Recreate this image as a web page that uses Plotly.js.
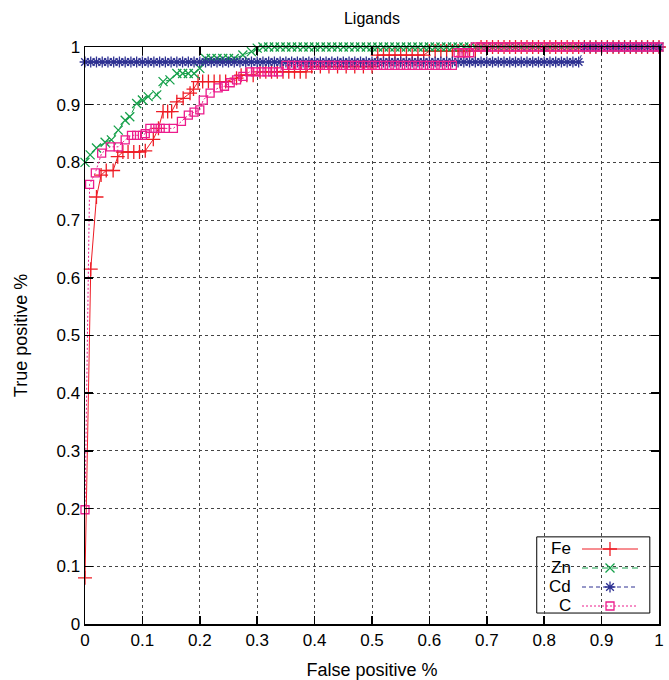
<!DOCTYPE html>
<html>
<head>
<meta charset="utf-8">
<script src="https://cdn.plot.ly/plotly-3.0.1.min.js"></script>
<style>html,body{margin:0;padding:0;background:#fff;}#chart{width:669px;height:680px;}</style>
</head>
<body>
<div id="chart"></div>
<script>
// ---- Data ----
const seriesNames = ["Fe", "Zn", "Cd", "C"];

const feX = [0,0.01,0.02,0.028,0.037,0.049,0.057,0.066,0.075,0.085,0.095,0.105,0.119,0.128,0.136,0.144,0.151,0.16,0.171,0.183,0.189,0.197,0.205,0.215,0.225,0.235,0.245,0.264,0.272,0.282,0.293,0.305,0.315,0.325,0.335,0.345,0.355,0.365,0.375,0.385,0.395,0.41,0.425,0.44,0.455,0.47,0.485,0.5,0.51,0.52,0.53,0.54,0.55,0.56,0.57,0.58,0.59,0.6,0.61,0.62,0.63,0.64,0.65,0.66,0.67,0.68,0.69,0.7,0.71,0.72,0.73,0.74,0.75,0.76,0.77,0.78,0.79,0.8,0.81,0.82,0.83,0.84,0.85,0.86,0.87,0.88,0.89,0.9,0.91,0.92,0.93,0.94,0.95,0.96,0.97,0.98,0.99,1.0];
const feY = [0.08,0.615,0.74,0.778,0.786,0.786,0.81,0.818,0.818,0.818,0.818,0.82,0.84,0.859,0.888,0.888,0.888,0.905,0.911,0.92,0.927,0.94,0.94,0.94,0.94,0.94,0.94,0.946,0.951,0.951,0.951,0.957,0.957,0.957,0.957,0.957,0.957,0.957,0.957,0.957,0.966,0.966,0.966,0.966,0.966,0.966,0.966,0.966,0.986,0.986,0.986,0.986,0.986,0.986,0.986,0.986,0.986,0.993,0.993,0.993,0.993,0.993,0.993,0.993,0.993,0.993,1,1,1,1,1,1,1,1,1,1,1,1,1,1,1,1,1,1,1,1,1,1,1,1,1,1,1,1,1,1,1,1];

const znX = [0,0.009,0.02,0.035,0.046,0.058,0.07,0.078,0.09,0.1,0.11,0.125,0.136,0.148,0.16,0.17,0.18,0.19,0.2,0.21,0.22,0.23,0.24,0.25,0.26,0.275,0.29,0.3,0.31,0.32,0.33,0.34,0.35,0.36,0.37,0.38,0.39,0.4,0.41,0.42,0.43,0.44,0.45,0.46,0.47,0.48,0.49,0.5,0.51,0.52,0.53,0.54,0.55,0.56,0.57,0.58,0.59,0.6,0.61,0.62,0.63,0.64,0.65,0.66,0.67,0.68,0.69,0.7,0.71,0.72,0.73,0.74,0.75,0.76,0.77,0.78,0.79,0.8,0.81,0.82,0.83,0.84,0.85,0.86,0.87,0.88,0.89,0.9,0.91,0.92,0.93,0.94,0.95,0.96,0.97,0.98,0.99,1.0];
const znY = [0.8,0.813,0.825,0.835,0.839,0.856,0.873,0.879,0.902,0.908,0.914,0.917,0.94,0.943,0.954,0.954,0.954,0.954,0.963,0.98,0.98,0.98,0.98,0.98,0.98,0.986,0.992,0.998,1,1,1,1,1,1,1,1,1,1,1,1,1,1,1,1,1,1,1,1,1,1,1,1,1,1,1,1,1,1,1,1,1,1,1,1,1,1,1,1,1,1,1,1,1,1,1,1,1,1,1,1,1,1,1,1,1,1,1,1,1,1,1,1,1,1,1,1,1,1];

const cdX = [0,0.01,0.02,0.03,0.04,0.05,0.06,0.07,0.08,0.09,0.1,0.11,0.12,0.13,0.14,0.15,0.16,0.17,0.18,0.19,0.2,0.21,0.22,0.23,0.24,0.25,0.26,0.27,0.28,0.29,0.3,0.31,0.32,0.33,0.34,0.35,0.36,0.37,0.38,0.39,0.4,0.41,0.42,0.43,0.44,0.45,0.46,0.47,0.48,0.49,0.5,0.51,0.52,0.53,0.54,0.55,0.56,0.57,0.58,0.59,0.6,0.61,0.62,0.63,0.64,0.65,0.66,0.67,0.68,0.69,0.7,0.71,0.72,0.73,0.74,0.75,0.76,0.77,0.78,0.79,0.8,0.81,0.82,0.83,0.84,0.85,0.86,0.87,0.88,0.89,0.9,0.91,0.92,0.93,0.94,0.95,0.96,0.97,0.98,0.99,1.0];
const cdY = [0.974,0.974,0.974,0.974,0.974,0.974,0.974,0.974,0.974,0.974,0.974,0.974,0.974,0.974,0.974,0.974,0.974,0.974,0.974,0.974,0.974,0.974,0.974,0.974,0.974,0.974,0.974,0.974,0.974,0.974,0.974,0.974,0.974,0.974,0.974,0.974,0.974,0.974,0.974,0.974,0.974,0.974,0.974,0.974,0.974,0.974,0.974,0.974,0.974,0.974,0.974,0.974,0.974,0.974,0.974,0.974,0.974,0.974,0.974,0.974,0.974,0.974,0.974,0.974,0.974,0.974,0.974,0.974,0.974,0.974,0.974,0.974,0.974,0.974,0.974,0.974,0.974,0.974,0.974,0.974,0.974,0.974,0.974,0.974,0.974,0.974,0.974,1,1,1,1,1,1,1,1,1,1,1,1,1,1];

const cX = [0,0.008,0.018,0.029,0.044,0.058,0.07,0.081,0.09,0.1,0.105,0.113,0.122,0.131,0.14,0.154,0.168,0.18,0.19,0.2,0.206,0.218,0.232,0.243,0.253,0.264,0.275,0.287,0.297,0.307,0.317,0.327,0.337,0.35,0.36,0.37,0.38,0.39,0.4,0.41,0.42,0.43,0.44,0.45,0.46,0.47,0.48,0.49,0.5,0.51,0.52,0.53,0.54,0.55,0.56,0.57,0.58,0.59,0.6,0.61,0.62,0.63,0.64,0.65,0.66,0.67,0.68,0.69,0.7,0.71,0.72,0.73,0.74,0.75,0.76,0.77,0.78,0.79,0.8,0.81,0.82,0.83,0.84,0.85,0.86,0.87,0.88,0.89,0.9,0.91,0.92,0.93,0.94,0.95,0.96,0.97,0.98,0.99,1.0];
const cY = [0.198,0.762,0.782,0.816,0.827,0.827,0.839,0.847,0.847,0.847,0.85,0.859,0.859,0.859,0.859,0.859,0.871,0.882,0.887,0.891,0.908,0.92,0.929,0.932,0.938,0.943,0.949,0.957,0.957,0.957,0.957,0.957,0.957,0.968,0.968,0.968,0.968,0.968,0.968,0.968,0.968,0.968,0.968,0.968,0.968,0.968,0.968,0.968,0.968,0.968,0.968,0.968,0.968,0.968,0.968,0.968,0.968,0.968,0.968,0.968,0.968,0.968,0.968,0.99,0.99,0.99,1,1,1,1,1,1,1,1,1,1,1,1,1,1,1,1,1,1,1,1,1,1,1,1,1,1,1,1,1,1,1,1,1];

const tickVals = [0,0.1,0.2,0.3,0.4,0.5,0.6,0.7,0.8,0.9,1];
const tickText = ["0","0.1","0.2","0.3","0.4","0.5","0.6","0.7","0.8","0.9","1"];

// ---- Styles ----
const FONT = "Liberation Sans, Arial, sans-serif";
const styles = [
  {color: "#ee1c25", dash: "solid", symbol: "cross-thin", size: 10},
  {color: "#15a04a", dash: "6px,4px", symbol: "x-thin", size: 9},
  {color: "#2e3192", dash: "4px,3px", symbol: "asterisk", size: 9},
  {color: "#ec1c8c", dash: "2px,2px", symbol: "square-open", size: 8}
];
const xs = [feX, znX, cdX, cX];
const ys = [feY, znY, cdY, cY];

const traces = seriesNames.map((n, i) => ({
  type: "scatter", mode: "lines+markers", name: " ",
  x: xs[i], y: ys[i], cliponaxis: false,
  line: {color: styles[i].color, width: 1, dash: styles[i].dash},
  marker: {symbol: styles[i].symbol, size: styles[i].size, color: styles[i].color,
           line: {color: styles[i].color, width: 1.3}}
}));

const axisBase = {
  range: [0, 1], tickvals: tickVals, ticktext: tickText,
  showgrid: true, gridcolor: "#444", griddash: "dot", gridwidth: 1,
  showline: true, linecolor: "#000", linewidth: 1.5, mirror: "ticks",
  ticks: "inside", ticklen: 8, tickcolor: "#000", tickwidth: 1.5,
  zeroline: false, tickfont: {family: FONT, size: 17, color: "#000"}
};

const legRowsY = [0.1308, 0.0979, 0.065, 0.0321];
const annotations = seriesNames.map((n, i) => ({
  xref: "paper", yref: "paper", x: 0.848, y: legRowsY[i], xanchor: "right", yanchor: "middle",
  text: n, showarrow: false, font: {family: FONT, size: 17, color: "#000"}, borderpad: 0
}));

const layout = {
  width: 669, height: 680,
  margin: {l: 85, r: 10, t: 47, b: 56},
  paper_bgcolor: "#fff", plot_bgcolor: "#fff",
  title: {text: "Ligands", x: 0.5, xref: "paper", y: 1 - 18/680, yref: "container",
          yanchor: "middle", font: {family: FONT, size: 16, color: "#000"}},
  xaxis: Object.assign({}, axisBase, {title: {text: "False positive %", font: {family: FONT, size: 18, color: "#000"}, standoff: 14}}),
  yaxis: Object.assign({}, axisBase, {title: {text: "True positive %", font: {family: FONT, size: 18, color: "#000"}, standoff: 24}}),
  showlegend: true,
  legend: {x: (577 - 85)/574, y: (624 - 534.5)/577, xanchor: "left", yanchor: "top",
           bgcolor: "rgba(0,0,0,0)", borderwidth: 0, itemwidth: 56,
           font: {family: FONT, size: 12}, tracegroupgap: 0},
  shapes: [{type: "rect", xref: "paper", yref: "paper", x0: 0.787, x1: 0.984, y0: 0.019, y1: 0.151,
            layer: "between", fillcolor: "#fff", line: {color: "#000", width: 1}}],
  annotations: annotations
};

Plotly.newPlot("chart", traces, layout, {displayModeBar: false, staticPlot: true});
</script>
</body>
</html>
